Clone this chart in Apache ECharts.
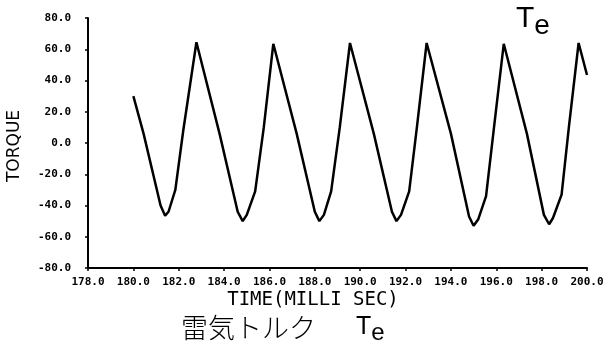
<!DOCTYPE html>
<html>
<head>
<meta charset="utf-8">
<script src="https://cdn.jsdelivr.net/npm/echarts@6/dist/echarts.min.js"></script>
<style>
  html, body { margin: 0; padding: 0; background: #fff; }
  #chart { width: 612px; height: 351px; }
</style>
</head>
<body>
<div id="chart"></div>
<script>
// Electrical torque Te versus time (ms)
const timeMs = [
  180.0, 180.45, 181.2, 181.4, 181.55, 181.85, 182.2, 182.78,
  183.8, 184.6, 184.82, 185.0, 185.37, 185.75, 186.17,
  187.2, 188.0, 188.2, 188.4, 188.72, 189.1, 189.55,
  190.6, 191.4, 191.6, 191.8, 192.16, 192.5, 192.93,
  194.0, 194.8, 195.0, 195.2, 195.55, 195.9, 196.33,
  197.35, 198.1, 198.33, 198.5, 198.88, 199.2, 199.63,
  200.0
];
const torque = [
  30, 6, -40, -46.5, -44, -30, 8, 64.5,
  6, -44, -50, -46, -31, 10, 63.5,
  6, -44, -50, -46, -31, 10, 64,
  6, -44, -50, -46, -31, 10, 64,
  6, -47, -53, -49, -34, 10, 63.5,
  6, -46, -52, -48, -33, 10, 64,
  43.5
];
const xTicks = { min: 178, max: 200, step: 2 };
const yTicks = { min: -80, max: 80, step: 20 };

const chart = echarts.init(document.getElementById('chart'), null, { renderer: 'canvas' });

const tickFont = {
  fontFamily: 'DejaVu Sans Mono',
  fontWeight: 'bold',
  fontSize: 11,
  color: '#000'
};

chart.setOption({
  animation: false,
  backgroundColor: '#fff',
  grid: { left: 88, right: 25, top: 18, bottom: 83, containLabel: false, outerBoundsMode: 'none' },
  xAxis: {
    type: 'value',
    min: xTicks.min, max: xTicks.max, interval: xTicks.step,
    axisLine: { onZero: false, lineStyle: { color: '#000', width: 2 } },
    axisTick: { show: true, length: 3, lineStyle: { color: '#000', width: 1.5 } },
    minorTick: { show: true, splitNumber: 4, length: 1, lineStyle: { color: '#000' } },
    splitLine: { show: false },
    axisLabel: Object.assign({ margin: 9, formatter: v => v.toFixed(1), showMaxLabel: true, showMinLabel: true }, tickFont)
  },
  yAxis: {
    type: 'value',
    min: yTicks.min, max: yTicks.max, interval: yTicks.step,
    axisLine: { onZero: false, lineStyle: { color: '#000', width: 2 } },
    axisTick: { show: true, length: 3, lineStyle: { color: '#000', width: 1.5 } },
    splitLine: { show: false },
    axisLabel: Object.assign({ margin: 17, formatter: v => v.toFixed(1) }, tickFont)
  },
  series: [{
    type: 'line',
    data: timeMs.map((t, i) => [t, torque[i]]),
    showSymbol: false,
    smooth: false,
    lineStyle: { color: '#000', width: 2.5 }
  }],
  graphic: [
    {
      type: 'text', x: 15, y: 146, rotation: Math.PI / 2,
      style: { text: 'TORQUE', font: '17px "DejaVu Sans"', fill: '#000', align: 'center', verticalAlign: 'middle' }
    },
    {
      type: 'text', x: 313, y: 300,
      style: { text: 'TIME(MILLI SEC)', font: '19px "DejaVu Sans Mono"', fill: '#000', align: 'center', verticalAlign: 'middle' }
    },
    {
      type: 'text', x: 516, y: 2,
      style: {
        text: '{t|T}{s|e}',
        rich: {
          t: { fontFamily: 'Liberation Sans', fontSize: 30, fill: '#000', lineHeight: 34 },
          s: { fontFamily: 'Liberation Sans', fontSize: 28, fill: '#000', padding: [14, 0, 0, 0], lineHeight: 34 }
        }
      }
    },
    {
      type: 'text', x: 181, y: 314,
      style: { text: '雷気トルク', font: '300 27px "Noto Sans CJK JP"', fill: '#000' }
    },
    {
      type: 'text', x: 356, y: 312,
      style: {
        text: '{t|T}{s|e}',
        rich: {
          t: { fontFamily: 'Liberation Sans', fontSize: 25, fill: '#000', lineHeight: 30 },
          s: { fontFamily: 'Liberation Sans', fontSize: 24, fill: '#000', padding: [12, 0, 0, 0], lineHeight: 30 }
        }
      }
    }
  ]
});
</script>
</body>
</html>
